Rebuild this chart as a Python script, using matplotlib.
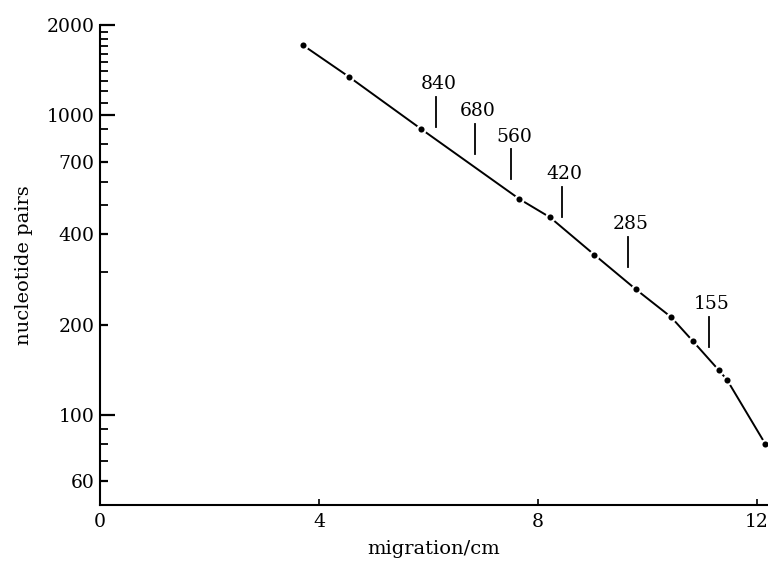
"""gel calibration curve: fragment length vs migration distance."""
import matplotlib
matplotlib.use("Agg")
import matplotlib.pyplot as plt

# measured standards (migration in cm, length in nucleotide pairs)
MIGRATION = [3.71, 4.55, 5.87, 7.66, 8.22, 9.03, 9.79, 10.43, 10.83, 11.30, 11.45, 12.15]
PAIRS = [1711, 1342, 898, 525, 456, 342, 262, 212, 176, 141, 131, 80]

# unknown fragments
FRAG_SIZES = [840, 680, 560, 420, 285, 155]
FRAG_MIGRATION = [6.14, 6.84, 7.51, 8.44, 9.65, 11.13]

YTICKS = [60, 100, 200, 400, 700, 1000, 2000]
YMINOR = [70, 80, 90, 300, 500, 600, 800, 900] + list(range(1100, 2000, 100))
XTICKS = [0, 4, 8, 12]

plt.rcParams["font.family"] = ["DejaVu Serif"]
plt.rcParams["font.size"] = 13.5

fig = plt.figure(figsize=(7.68, 5.62), dpi=100)
ax = fig.add_axes([0.1302, 0.1014, 0.8698, 0.8541])

ax.plot(MIGRATION, PAIRS, color="black", lw=1.4, zorder=2, clip_on=False)
ax.plot(MIGRATION, PAIRS, ls="none", marker="o", ms=4.4, mfc="black",
        mec="white", mew=3.2, zorder=3, clip_on=False)
ax.plot(MIGRATION, PAIRS, ls="none", marker="o", ms=4.4, mfc="black",
        mec="black", mew=0, zorder=4, clip_on=False)

for size, x in zip(FRAG_SIZES, FRAG_MIGRATION):
    lo = size * 1.09
    hi = lo * 1.26
    ax.plot([x, x], [lo, hi], color="black", lw=1.3)
    ax.text(x + 0.05, hi * 1.03, str(size), ha="center", va="bottom", fontsize=13.5)

ax.set_yscale("log")
ax.set_xlim(0, 12.2)
ax.set_ylim(50, 2000)
ax.set_yticks(YTICKS)
ax.set_yticklabels([str(v) for v in YTICKS])
ax.set_yticks(YMINOR, minor=True)
ax.yaxis.set_minor_formatter(matplotlib.ticker.NullFormatter())
ax.set_xticks(XTICKS)
ax.set_xticklabels([str(v) for v in XTICKS])

for s in ["top", "right"]:
    ax.spines[s].set_visible(False)
for s in ["left", "bottom"]:
    ax.spines[s].set_linewidth(1.5)

ax.tick_params(axis="y", which="major", direction="in", length=6, width=1.6, pad=4)
ax.tick_params(axis="y", which="minor", direction="in", length=6, width=1.3)
ax.tick_params(axis="x", which="major", direction="in", length=4, width=1.2, pad=6)
for t, v in zip(ax.yaxis.get_major_ticks(), YTICKS):
    if v in (100, 1000, 2000):
        t.tick1line.set_markersize(11)

ax.set_ylabel("nucleotide pairs", fontsize=14, labelpad=10)
ax.set_xlabel("migration/cm", fontsize=14, labelpad=6)

fig.savefig("out.png", dpi=100)
